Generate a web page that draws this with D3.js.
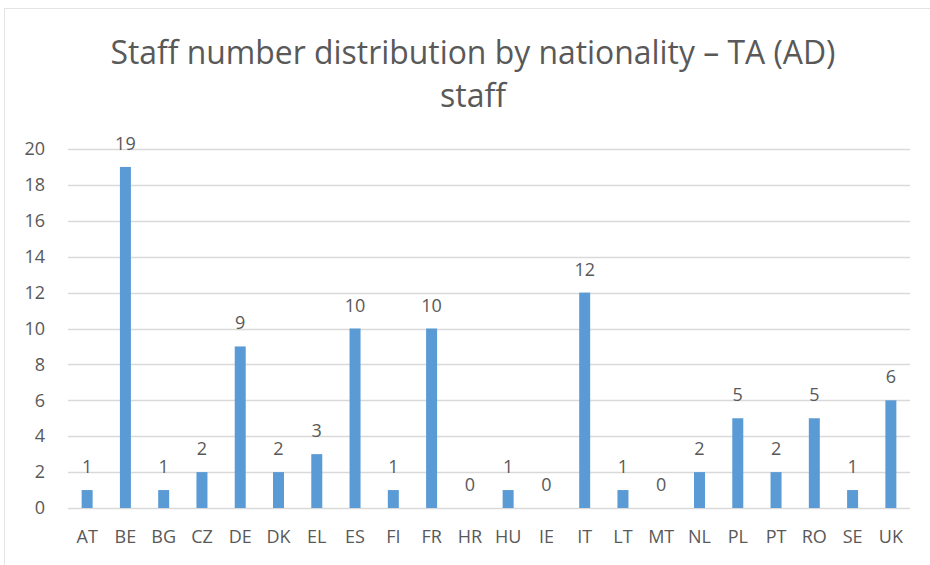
<!DOCTYPE html>
<html>
<head>
<meta charset="utf-8">
<script src="https://cdn.jsdelivr.net/npm/d3@7"></script>
<style>
  body { margin: 0; background: #fff; }
  text { font-family: "Open Sans", "Noto Sans", sans-serif; }
</style>
</head>
<body>
<div class="chart"></div>
<script>
var width = 930;
var height = 565;

// data
var countries = ["AT", "BE", "BG", "CZ", "DE", "DK", "EL", "ES", "FI", "FR", "HR",
                 "HU", "IE", "IT", "LT", "MT", "NL", "PL", "PT", "RO", "SE", "UK"];
var staff = [1, 19, 1, 2, 9, 2, 3, 10, 1, 10, 0, 1, 0, 12, 1, 0, 2, 5, 2, 5, 1, 6];
var yTicks = [0, 2, 4, 6, 8, 10, 12, 14, 16, 18, 20];
var titleLines = ["Staff number distribution by nationality \u2013 TA (AD)", "staff"];

var bar_color = "#5b9bd5"
var text_color = "#595959"
var grid_color = "#d9d9d9"

var svg = d3.select("div.chart").append("svg")
    .attr("width", width)
    .attr("height", height);

// chart area border
svg.append("rect")
    .attr("x", 4.5).attr("y", 8.5)
    .attr("width", width + 10).attr("height", height + 10)
    .attr("fill", "none")
    .attr("stroke", "#e4e4e4");

var x = d3.scaleBand().domain(countries).range([68, 910]).paddingInner(0).paddingOuter(0);
var y = d3.scaleLinear().domain([0, 20]).range([508, 149]);

// gridlines
svg.append("g").selectAll("line").data(yTicks).enter()
    .append("line")
    .attr("x1", 68).attr("x2", 910)
    .attr("y1", function(d){ return Math.round(y(d)) + 0.5 })
    .attr("y2", function(d){ return Math.round(y(d)) + 0.5 })
    .attr("stroke", grid_color)
    .attr("stroke-width", 1.5);

// y axis labels
var yAxis = d3.axisLeft(y).tickValues(yTicks).tickSize(0).tickPadding(0);
var yg = svg.append("g").attr("transform", "translate(45,0)").call(yAxis);
yg.select(".domain").remove();
yg.selectAll("text").attr("fill", text_color).style("font-size", "18px");

// x axis labels
var xAxis = d3.axisBottom(x).tickSize(0).tickPadding(0);
var xg = svg.append("g").attr("transform", "translate(0,530)").call(xAxis);
xg.select(".domain").remove();
xg.selectAll("text").attr("fill", text_color).style("font-size", "18px");

var barWidth = 11;

svg.append("g").selectAll("rect").data(staff).enter()
    .append("rect")
    .attr("x", function(d, i){ return x(countries[i]) + x.bandwidth() / 2 - barWidth / 2 })
    .attr("y", function(d){ return y(d) })
    .attr("width", barWidth)
    .attr("height", function(d){ return y(0) - y(d) })
    .attr("fill", bar_color);

// value labels
svg.append("g").selectAll("text").data(staff).enter()
    .append("text")
    .attr("x", function(d, i){ return x(countries[i]) + x.bandwidth() / 2 })
    .attr("y", function(d){ return y(d) - 17 })
    .attr("text-anchor", "middle")
    .attr("fill", text_color)
    .style("font-size", "18px")
    .text(function(d){ return d });

// title
svg.append("g").selectAll("text").data(titleLines).enter()
    .append("text")
    .attr("x", 473)
    .attr("y", function(d, i){ return 64 + i * 43 })
    .attr("text-anchor", "middle")
    .attr("fill", text_color)
    .style("font-size", "32px")
    .attr("textLength", function(d, i){ return i == 0 ? 725 : 66 })
    .attr("lengthAdjust", "spacingAndGlyphs")
    .text(function(d){ return d });
</script>
</body>
</html>
